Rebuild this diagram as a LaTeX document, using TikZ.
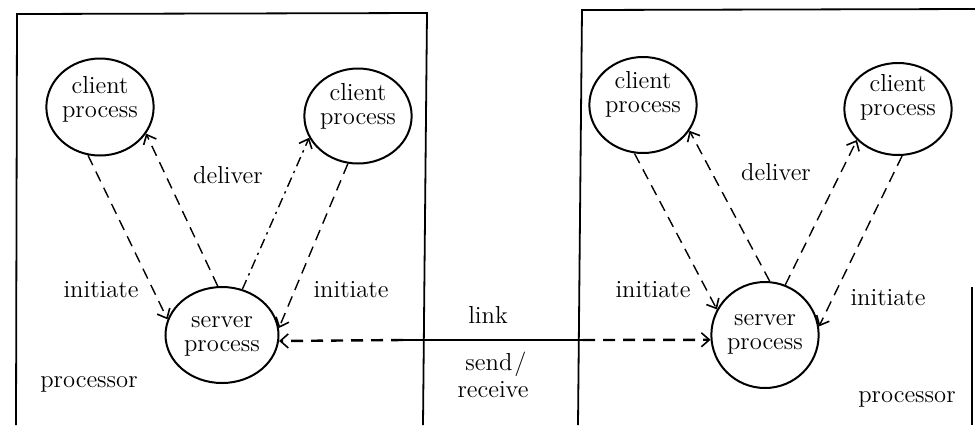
\documentclass[tikz,border=0pt]{standalone}
\usetikzlibrary{shapes.geometric,arrows.meta}
\newcommand\liftlines[2]{\raisebox{#1}[\height][\depth]{\begin{tabular}{@{}c@{}}#2\end{tabular}}}
\begin{document}
\begin{tikzpicture}[x=0.5pt,y=-0.5pt,
  txt/.style={font=\fontsize{12.3}{12}\selectfont},
  proc/.style={ellipse,draw,line width=1pt,inner sep=0pt,align=center,txt},
  lbl/.style={inner sep=0pt,anchor=base,txt},
  box/.style={line width=0.9pt},
  tip/.style={-{Straight Barb[length=4pt,width=7pt,line width=0.8pt]}},
  conn/.style={line width=0.7pt,dash pattern=on 5.5pt off 3.5pt,tip},
  dashdotconn/.style={line width=0.7pt,dash pattern=on 5pt off 2.5pt on 1.2pt off 2.5pt,tip},
  linkd/.style={line width=1.2pt,dash pattern=on 6pt off 4pt},
]
\useasboundingbox (0,0) rectangle (975,425);

% processor boxes
\draw[box] (16,425) -- (17,14) -- (427,13) -- (423,425);
\draw[box] (578,425) -- (582,10) -- (975,9);
\draw[box] (972,287) -- (972,425);

% left processor
\node[proc,minimum width=53.5pt,minimum height=48.5pt] (CL1) at (100,107) {\liftlines{3pt}{client\\process}};
\node[proc,minimum width=53.5pt,minimum height=47.5pt] (CR1) at (358,116) {\liftlines{4pt}{client\\process}};
\node[proc,minimum width=56.5pt,minimum height=48pt] (S1) at (222,335) {\liftlines{0pt}{server\\process}};

% right processor
\node[proc,minimum width=53.5pt,minimum height=48pt] (CL2) at (643,105) {\liftlines{4.5pt}{client\\process}};
\node[proc,minimum width=53.5pt,minimum height=46pt] (CR2) at (898,109) {\liftlines{5pt}{client\\process}};
\node[proc,minimum width=53pt,minimum height=53pt] (S2) at (765,335) {\liftlines{1pt}{server\\process}};

% connectors, left
\draw[conn] (CL1.256) -- (S1.164);
\draw[conn] (S1.95) -- (CL1.330);
\draw[dashdotconn] (S1.66) -- (CR1.204);
\draw[conn] (CR1.258) -- (S1.7);

% connectors, right
\draw[conn] (CL2.260) -- (S2.152);
\draw[conn] (S2.85) -- (CL2.331);
\draw[conn] (S2.68) -- (CR2.217);
\draw[conn] (CR2.275) -- (S2.9);

% link
\coordinate (lkL) at (403,340);
\coordinate (lkR) at (583,340);
\draw[linkd,tip] (lkL) -- (S1.354);
\draw[line width=1.2pt] (lkL) -- (lkR);
\draw[linkd,tip] (lkR) -- (S2.185);

% labels
\node[lbl] (dl1) at (228,183) {deliver};
\node[lbl] (il1) at (101,297) {initiate};
\node[lbl] (ir1) at (351,297) {initiate};
\node[lbl] (pr1) at (89,387) {processor};
\node[lbl] (dl2) at (776,180) {deliver};
\node[lbl] (il2) at (653,297) {initiate};
\node[lbl] (ir2) at (888,305) {initiate};
\node[lbl] (pr2) at (907,402) {processor};
\node[lbl] (lk) at (488,323) {link};
\node[lbl] (sd) at (496,370) {send\kern1pt/};
\node[lbl] (rc) at (493,397) {receive};
\end{tikzpicture}
\end{document}
